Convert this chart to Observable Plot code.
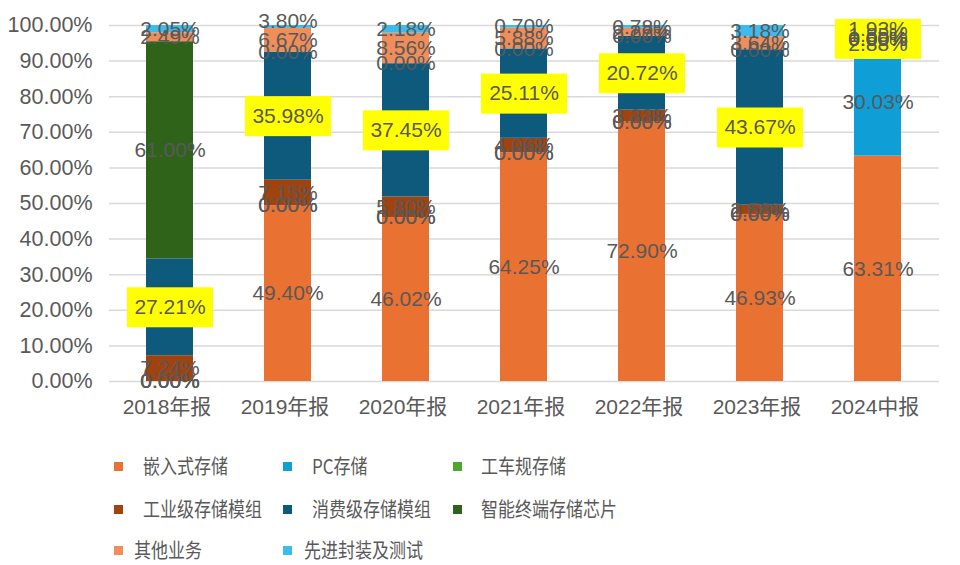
<!DOCTYPE html>
<html>
<head>
<meta charset="utf-8">
<script src="https://cdn.jsdelivr.net/npm/d3@7"></script>
<script src="https://cdn.jsdelivr.net/npm/@observablehq/plot@0.6"></script>
<style>
  html, body { margin: 0; padding: 0; background: #fff; }
  #wrap { position: relative; width: 960px; height: 565px; overflow: hidden;
          font-family: "Liberation Sans", "Noto Sans CJK SC", sans-serif; }
  #legend { position: absolute; left: 0; top: 0; width: 960px; height: 565px; pointer-events: none; }
  .sw { width: 9px; height: 9px; position: absolute; }
  .lt { position: absolute; white-space: nowrap; font-family: "Noto Sans CJK SC", sans-serif;
        font-size: 20px; color: #595959; line-height: 26px; transform: scaleX(0.85); transform-origin: 0 50%; }
</style>
</head>
<body>
<div id="wrap"><div id="chart"></div><div id="legend"></div></div>
<script>
// ---- data (percent) ----
const years = ["2018年报", "2019年报", "2020年报", "2021年报", "2022年报", "2023年报", "2024中报"];
const series = ["嵌入式存储", "PC存储", "工车规存储", "工业级存储模组", "消费级存储模组", "智能终端存储芯片", "其他业务", "先进封装及测试"];
const embedded    = [0, 49.40, 46.02, 64.25, 72.90, 46.93, 63.31];
const pcStorage   = [0, 0, 0, 0, 0, 0, 30.03];
const autoInd     = [0, 0, 0, 0, 0, 0, 2.88];
const industrial  = [7.24, 7.15, 5.80, 4.06, 3.33, 2.58, 0];
const consumer    = [27.21, 35.98, 37.45, 25.11, 20.72, 43.67, 0];
const smartChip   = [61.00, 0, 0, 0, 0, 0, 0];
const other       = [2.49, 6.67, 8.56, 5.88, 2.27, 3.64, 1.85];
const packaging   = [2.05, 3.80, 2.18, 0.70, 0.78, 3.18, 1.93];
const yTicks = [0, 0.1, 0.2, 0.3, 0.4, 0.5, 0.6, 0.7, 0.8, 0.9, 1.0];
const colors = ["#E97132", "#0F9ED5", "#4EA72E", "#A0430F", "#0E5A7C", "#2F6319", "#EF8E5A", "#3DBCEC"];
const highlighted = "消费级存储模组";

const seriesValues = [embedded, pcStorage, autoInd, industrial, consumer, smartChip, other, packaging];
const rows = [];
series.forEach((s, j) => years.forEach((yr, i) => rows.push({year: yr, series: s, value: seriesValues[j][i] / 100})));

const fmt = v => (v * 100).toFixed(2) + "%";
const textColor = "#595959";
const labelSize = 21;

function yellowBoxRender(index, scales, values, dimensions, context, next) {
  const g = next(index, scales, values, dimensions, context);
  const ns = "http://www.w3.org/2000/svg";
  g.querySelectorAll("text").forEach(t => {
    const rect = document.createElementNS(ns, "rect");
    const tr = t.getAttribute("transform");
    let x = -43, y = -20;
    if (!tr) { x += +t.getAttribute("x"); y += +t.getAttribute("y"); }
    rect.setAttribute("x", x);
    rect.setAttribute("y", y);
    rect.setAttribute("width", 86);
    rect.setAttribute("height", 40);
    rect.setAttribute("fill", "#FFFF00");
    if (tr) rect.setAttribute("transform", tr);
    t.parentNode.insertBefore(rect, t);
    t.remove();
  });
  return g;
}

const stackText = (test, extra = {}) => Plot.filter(test, Plot.stackY({
  x: "year", y: "value", z: "series", order: series,
  text: d => fmt(d.value), fill: textColor, fontSize: labelSize, ...extra
}));

const plot = Plot.plot({
  width: 960,
  height: 435,
  marginLeft: 109,
  marginRight: 21,
  marginTop: 25,
  marginBottom: 54,
  style: {fontFamily: "'Liberation Sans', 'Noto Sans CJK SC', sans-serif", color: textColor, background: "#fff"},
  x: {domain: years, paddingInner: 0.6, paddingOuter: 0.3, label: null},
  y: {domain: [0, 1], label: null},
  color: {domain: series, range: colors},
  marks: [
    Plot.gridY(yTicks, {stroke: "#d9d9d9", strokeOpacity: 1, strokeWidth: 1.5}),
    Plot.axisY(yTicks, {tickSize: 0, tickPadding: 17, tickFormat: fmt, fontSize: 21.5, fill: textColor, label: null}),
    Plot.axisX({tickSize: 0, tickPadding: 18, fontSize: 21, fill: textColor, label: null, dx: -3}),
    Plot.barY(rows, {x: "year", y: "value", fill: "series", order: series, clip: true}),
    Plot.text(rows, stackText(d => d.series === highlighted, {render: yellowBoxRender})),
    Plot.text(rows, stackText(d => d.series !== highlighted)),
    Plot.text(rows, stackText(d => d.series === highlighted))
  ]
});
document.getElementById("chart").appendChild(plot);

// ---- legend ----
const legend = document.getElementById("legend");
const colSwatchX = [114, 283, 453];
const colTextX = [[143, 143, 134], [312, 312, 304], [481, 481, 481]];
const rowY = [466, 509, 550];
series.forEach((s, k) => {
  const col = k % 3, row = Math.floor(k / 3);
  const sw = document.createElement("div");
  sw.className = "sw";
  sw.style.left = colSwatchX[col] + "px";
  sw.style.top = (rowY[row] - 4.5) + "px";
  sw.style.background = colors[k];
  legend.appendChild(sw);
  const t = document.createElement("div");
  t.className = "lt";
  t.textContent = s;
  t.style.left = colTextX[col][row] + "px";
  t.style.top = (rowY[row] - 13) + "px";
  legend.appendChild(t);
});
</script>
</body>
</html>
